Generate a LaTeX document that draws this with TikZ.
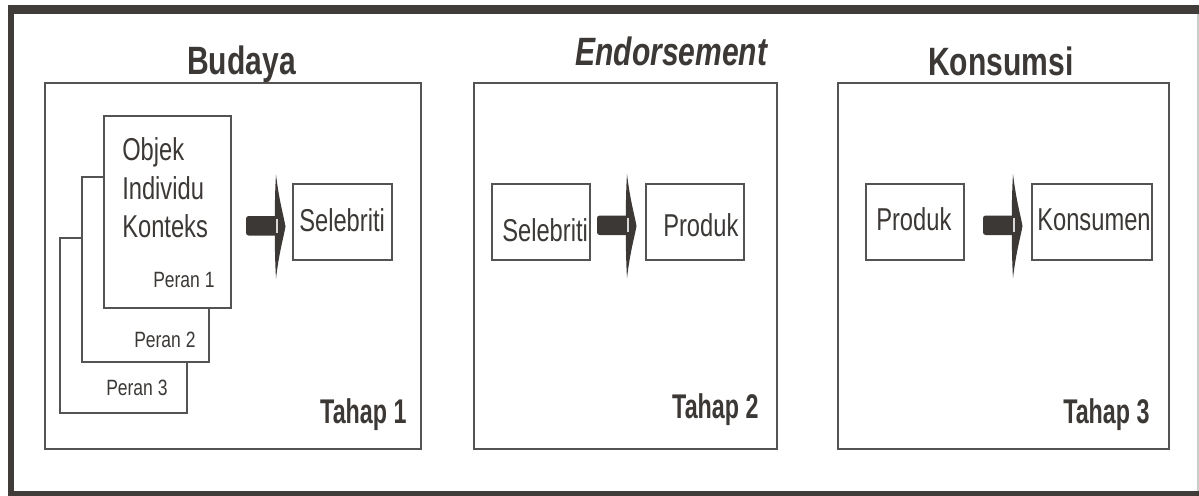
\documentclass[tikz,border=0pt]{standalone}
\usepackage{fontspec}
\setmainfont{Liberation Sans}
\usetikzlibrary{fit}
\definecolor{ink}{HTML}{3B3836}
\definecolor{frame}{HTML}{403C39}
\definecolor{boxline}{HTML}{555352}
\tikzset{
  stagebox/.style={draw=boxline, line width=0.7pt, inner sep=0pt, fill=white},
  itembox/.style={draw=boxline, line width=0.7pt, inner sep=0pt, fill=white},
  title/.style={anchor=base west, inner sep=0pt, text=ink, xscale=0.76, font=\fontsize{22.5}{26}\selectfont\bfseries},
  stagelbl/.style={anchor=base west, inner sep=0pt, text=ink, xscale=0.68, font=\fontsize{19.5}{23}\selectfont\bfseries},
  itemtxt/.style={anchor=base west, inner sep=0pt, text=ink, xscale=0.75, font=\fontsize{18}{21}\selectfont},
  perantxt/.style={anchor=base west, inner sep=0pt, text=ink, xscale=0.79, font=\fontsize{12.6}{15}\selectfont},
  fatarrow/.pic={
    \fill[ink, rounded corners=1.5pt] (0,-9.5) rectangle (32,10);
    \fill[ink] (30,-51) .. controls (33,-25) and (38,-8) .. (39.5,1)
               .. controls (38,10) and (33,27) .. (30,53)
               .. controls (28.3,25) and (28.3,-25) .. (30,-51) -- cycle;
    \fill[white!80!ink] (30.4,-7) rectangle (31.8,7);
  }
}
\begin{document}
\begin{tikzpicture}[x=0.02cm,y=-0.02cm]
\useasboundingbox (0,0) rectangle (1199,495);
\fill[white] (0,0) rectangle (1199,495);
% outer frame
\draw[frame, line width=5.2pt] (1199,9.5) -- (8,9.5);
\draw[frame, line width=3.6pt] (11,6) -- (11,497);
\draw[frame, line width=3.6pt] (8,494.5) -- (1199,494.5);
\draw[gray!40, line width=0.6pt] (1198,14) -- (1198,491);

% stage boxes
\node (s1) [stagebox, fit={(45,83) (421,449)}] {};
\node (s2) [stagebox, fit={(474,83) (777,449)}] {};
\node (s3) [stagebox, fit={(838,83) (1169,449)}] {};

% titles
\node (t1) [title] at (187,74) {Budaya};
\node (t2) [title] at (575,65) {\itshape Endorsement};
\node (t3) [title] at (928,75) {Konsumsi};

% stage 1 stack
\node (p3) [itembox, fit={(60,238) (187,413)}] {};
\node (p2) [itembox, fit={(82,177) (209,362)}] {};
\node (p1) [itembox, fit={(104,116) (231,308)}] {};
\node (o1) [itemtxt] at (122,160) {Objek};
\node (o2) [itemtxt] at (122,199) {Individu};
\node (o3) [itemtxt] at (122,237) {Konteks};
\node (r1) [perantxt] at (153,287) {Peran 1};
\node (r2) [perantxt] at (134,347) {Peran 2};
\node (r3) [perantxt] at (106,395) {Peran 3};

\pic (a1) at (246,225.5) {fatarrow};
\node (c1) [itembox, fit={(293,184) (392,260)}] {};
\node (c1t) [itemtxt] at (299,231) {Selebriti};
\node (h1) [stagelbl] at (320,423) {Tahap 1};

% stage 2
\node (c2) [itembox, fit={(492,184) (590,260)}] {};
\node (c2t) [itemtxt] at (502,241) {Selebriti};
\pic (a2) at (597,225) {fatarrow};
\node (d2) [itembox, fit={(646,184) (744,260)}] {};
\node (d2t) [itemtxt] at (663,236) {Produk};
\node (h2) [stagelbl] at (672,418) {Tahap 2};

% stage 3
\node (d3) [itembox, fit={(866,184) (964,260)}] {};
\node (d3t) [itemtxt] at (876,230) {Produk};
\pic (a3) at (983,225) {fatarrow};
\node (k3) [itembox, fit={(1032,184) (1152,260)}] {};
\node (k3t) [itemtxt] at (1037,230) {Konsumen};
\node (h3) [stagelbl] at (1063,423) {Tahap 3};
\end{tikzpicture}
\end{document}
